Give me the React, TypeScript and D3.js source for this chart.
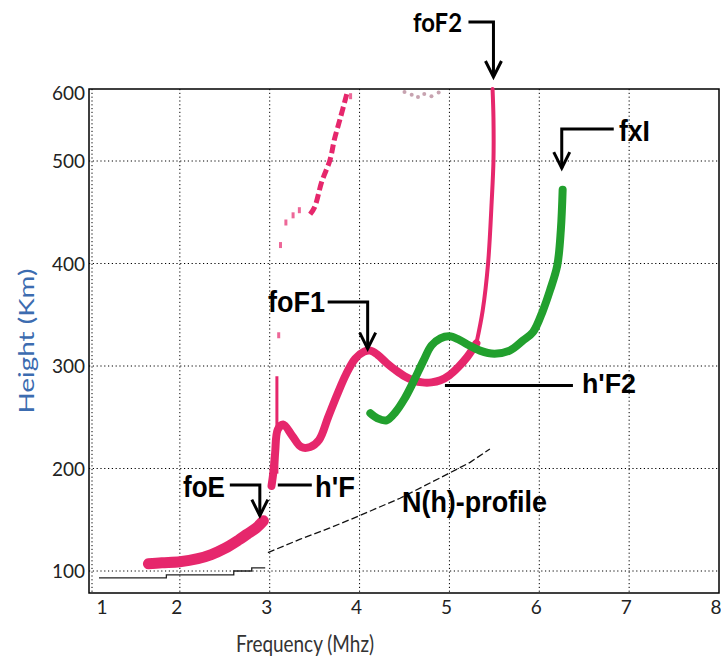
import React from "react";
import * as d3 from "d3";

// ---- data (frequency MHz, virtual height km) ----
const xTicks = [1, 2, 3, 4, 5, 6, 7, 8];
const yTicks = [100, 200, 300, 400, 500, 600];
const xGrid = [2, 3, 4, 5, 6, 7];
const yGrid = [100, 200, 300, 400, 500];

const pinkE: [number, number][] = [
  [1.65, 107], [1.8, 108], [2.0, 109], [2.2, 112], [2.35, 116], [2.5, 122],
  [2.65, 130], [2.75, 136], [2.85, 142], [2.93, 149],
];
const pinkF: [number, number][] = [
  [3.02, 183], [3.04, 196], [3.06, 215], [3.09, 238], [3.15, 243], [3.25, 232],
  [3.35, 221], [3.45, 221], [3.55, 228], [3.65, 250], [3.75, 272], [3.85, 292],
  [3.95, 307], [4.05, 314], [4.12, 315], [4.2, 311], [4.3, 303], [4.4, 296],
  [4.5, 290], [4.6, 286], [4.7, 284], [4.8, 284], [4.9, 286], [5.0, 291],
  [5.1, 299], [5.2, 309], [5.3, 322],
];
const pinkRise: [number, number][] = [
  [5.3, 322], [5.37, 354], [5.43, 400], [5.47, 460], [5.49, 500], [5.49, 560], [5.48, 600],
];
const pinkSpike: [number, number][] = [[3.08, 195], [3.08, 290]];
const pinkHop: [number, number][] = [
  [3.45, 448], [3.5, 455], [3.58, 480], [3.67, 501], [3.72, 530], [3.78, 557], [3.86, 594],
];
const pinkSparse: [number, number][] = [
  [3.12, 418], [3.18, 440], [3.26, 447], [3.33, 452], [3.9, 590], [3.1, 330],
];
const greyTop: [number, number][] = [
  [4.5, 596], [4.58, 592], [4.65, 589], [4.72, 593], [4.8, 590], [4.88, 595],
];
const greenX: [number, number][] = [
  [4.12, 254], [4.2, 249], [4.3, 247], [4.4, 255], [4.5, 268], [4.59, 283],
  [4.71, 305], [4.8, 320], [4.9, 327], [5.0, 329], [5.1, 326], [5.2, 321],
  [5.34, 315], [5.5, 312], [5.67, 315], [5.82, 325], [5.93, 333], [6.04, 354],
  [6.12, 374], [6.2, 398], [6.24, 433], [6.26, 472],
];
const nhLow: [number, number][] = [
  [1.1, 93], [1.85, 96], [2.6, 100], [2.8, 103], [2.95, 103],
];
const nhHigh: [number, number][] = [
  [2.98, 118], [3.34, 131], [3.67, 142], [4.0, 154], [4.45, 171], [4.9, 191],
  [5.23, 206], [5.45, 219],
];

const PINK = "#E6276C";
const GREEN = "#22A02E";

export default function App() {
  const W = 721, H = 663;
  const left = 89, right = 719, top = 89, bottom = 593;
  const x = d3.scaleLinear().domain([1, 8]).range([left + 1, right]);
  const y = d3.scaleLinear().domain([77.5, 100, 500, 600]).range([bottom, 571, 161, top]);

  const line = d3.line<[number, number]>().x((d) => x(d[0])).y((d) => y(d[1])).curve(d3.curveCatmullRom);
  const lin = d3.line<[number, number]>().x((d) => x(d[0])).y((d) => y(d[1]));
  const step = d3.line<[number, number]>().x((d) => x(d[0])).y((d) => y(d[1])).curve(d3.curveStepAfter);

  const tickFont = "Lato, 'Open Sans', sans-serif";
  const annFont = "'Liberation Sans', Arial, sans-serif";

  const arrowHead = (tx: number, ty: number) =>
    `M${tx - 8},${ty - 16} L${tx},${ty} L${tx + 8},${ty - 16}`;

  const foF2Tip = [x(5.49), y(600) - 12];
  const fxITip = [x(6.25), y(493)];
  const foF1Tip = [x(4.09), y(315)];
  const foETip = [x(2.89), y(154)];

  return (
    <svg width={W} height={H} style={{ position: "absolute", left: 0, top: 0, background: "#fff" }}>
      <rect x={0} y={0} width={W} height={H} fill="#fff" />
      {/* grid */}
      <g stroke="#000" strokeWidth={1} strokeDasharray="1.2,2.6">
        {xGrid.map((v) => (
          <line key={"gx" + v} x1={x(v)} x2={x(v)} y1={top} y2={bottom} />
        ))}
        {yGrid.map((v) => (
          <line key={"gy" + v} x1={left} x2={right} y1={y(v)} y2={y(v)} />
        ))}
        <line x1={left + 3} x2={left + 3} y1={top} y2={bottom} />
      </g>
      {/* frame */}
      <rect x={left} y={top} width={right - left} height={bottom - top} fill="none" stroke="#000" strokeWidth={1.5} />

      {/* N(h) profile */}
      <path d={step(nhLow) || ""} fill="none" stroke="#222" strokeWidth={1.3} />
      <path d={lin(nhHigh) || ""} fill="none" stroke="#111" strokeWidth={1.3} strokeDasharray="7,3" />

      {/* pink O-mode traces */}
      <path d={line(pinkE) || ""} fill="none" stroke={PINK} strokeWidth={11} strokeLinecap="round" />
      <path d={line(pinkF) || ""} fill="none" stroke={PINK} strokeWidth={8} strokeLinecap="round" strokeLinejoin="round" />
      <path d={line(pinkRise) || ""} fill="none" stroke={PINK} strokeWidth={4} strokeLinecap="round" />
      <path d={lin(pinkSpike) || ""} fill="none" stroke={PINK} strokeWidth={3} />
      <path d={line(pinkHop) || ""} fill="none" stroke={PINK} strokeWidth={5} strokeDasharray="9,4" />
      {pinkSparse.map((d, i) => (
        <rect key={"ps" + i} x={x(d[0]) - 1.5} y={y(d[1]) - 3} width={3} height={6} fill={PINK} opacity={0.7} />
      ))}
      {greyTop.map((d, i) => (
        <circle key={"gt" + i} cx={x(d[0])} cy={y(d[1])} r={2} fill="#b98c9c" opacity={0.8} />
      ))}

      {/* green X-mode trace */}
      <path d={line(greenX) || ""} fill="none" stroke={GREEN} strokeWidth={8} strokeLinecap="round" strokeLinejoin="round" />

      {/* axis tick labels */}
      <g fontFamily={tickFont} fontSize={19} fill="#222">
        {xTicks.map((v) => (
          <text key={"xt" + v} x={v === 1 ? x(v) + 12 : x(v) - 3} y={614} textAnchor="middle">{v}</text>
        ))}
        {yTicks.map((v) => (
          <text key={"yt" + v} x={left - 4} y={Math.max(y(v), 93) + 7} textAnchor="end">{v}</text>
        ))}
      </g>
      <text x={305} y={652} textAnchor="middle" fontFamily={tickFont} fontSize={23} fill="#333" textLength={138} lengthAdjust="spacingAndGlyphs">Frequency (Mhz)</text>
      <text transform={`translate(34,341) rotate(-90)`} textAnchor="middle" fontFamily={tickFont} fontSize={22} fill="#3C6CB0" textLength={145} lengthAdjust="spacingAndGlyphs">Height (Km)</text>

      {/* annotations */}
      <g stroke="#000" strokeWidth={3} fill="none">
        <path d={`M${foF2Tip[0] - 25},22 H${foF2Tip[0]} V${foF2Tip[1]}`} />
        <path d={arrowHead(foF2Tip[0], foF2Tip[1])} />
        <path d={`M${fxITip[0] + 52},129 H${fxITip[0]} V${fxITip[1]}`} />
        <path d={arrowHead(fxITip[0], fxITip[1])} />
        <path d={`M${foF1Tip[0] - 40},302 H${foF1Tip[0]} V${foF1Tip[1] - 2}`} />
        <path d={arrowHead(foF1Tip[0], foF1Tip[1] - 2)} />
        <path d={`M${foETip[0] - 30},485 H${foETip[0]} V${foETip[1]}`} />
        <path d={arrowHead(foETip[0], foETip[1])} />
        <path d={`M${x(3.09)},485 H${x(3.09) + 34}`} />
        <path d={`M${x(4.95)},${y(281)} H${x(4.95) + 128}`} />
      </g>
      <g fontFamily={annFont} fontWeight="bold" fill="#000">
        <text x={413} y={32} fontFamily={tickFont} fontSize={27} textLength={49} lengthAdjust="spacingAndGlyphs">foF2</text>
        <text x={619} y={141} fontSize={29} textLength={31} lengthAdjust="spacingAndGlyphs">fxI</text>
        <text x={268} y={312} fontSize={29} textLength={57} lengthAdjust="spacingAndGlyphs">foF1</text>
        <text x={183} y={497} fontSize={29} textLength={42} lengthAdjust="spacingAndGlyphs">foE</text>
        <text x={315} y={497} fontSize={29} textLength={40} lengthAdjust="spacingAndGlyphs">h'F</text>
        <text x={582} y={393} fontSize={27} textLength={54} lengthAdjust="spacingAndGlyphs">h'F2</text>
        <text x={402} y={512} fontSize={30} textLength={145} lengthAdjust="spacingAndGlyphs">N(h)-profile</text>
      </g>
    </svg>
  );
}
